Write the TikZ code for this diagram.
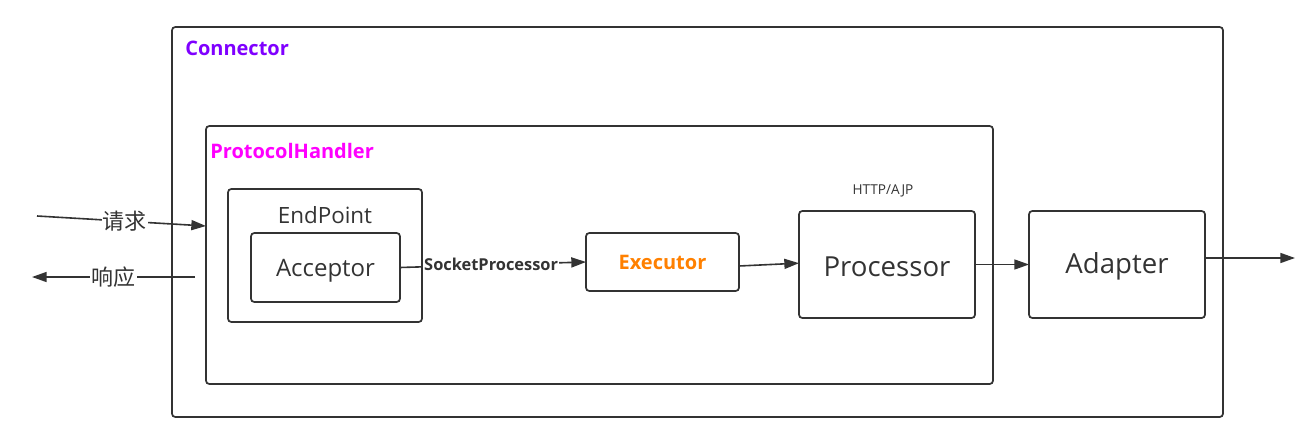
\documentclass[tikz,border=0pt]{standalone}
\usepackage{fontspec}
\setmainfont{Open Sans}
\newfontfamily\cjk{Noto Sans CJK SC}
\usetikzlibrary{arrows.meta,fit}
\definecolor{ink}{HTML}{333333}
\definecolor{conncol}{HTML}{7F00FF}
\definecolor{phcol}{HTML}{FF00FF}
\definecolor{execol}{HTML}{FF8000}
\tikzset{
  box/.style={draw=ink, line width=1.3pt, rounded corners=2.5pt, inner sep=0pt, outer sep=0pt},
  conn/.style={draw=ink, line width=1.2pt, -{Triangle[length=11pt,width=7.5pt]}},
  lbl/.style={text=ink, inner sep=1pt},
  title/.style={font=\bfseries\fontsize{15}{18}\selectfont, anchor=west, inner sep=0pt},
  lab/.style={fill=white, text=ink, inner sep=1pt},
}
\begin{document}
\begin{tikzpicture}[x=0.75pt,y=-0.75pt]
\useasboundingbox (0,0) rectangle (1309,435);
% containers
\node[box, fit={(172,27) (1223,417)}] (connbox) {};
\node[title, text=conncol] (conntitle) at (185,48) {Connector};
\node[box, fit={(206,126) (993,384)}] (ph) {};
\node[title, text=phcol] (phtitle) at (210,151) {ProtocolHandler};
\node[box, fit={(228,189) (422,322)}] (ep) {};
\node[lbl, font=\fontsize{16.8}{20}\selectfont] (eptitle) at (325,215) {EndPoint};
% boxes
\node[box, fit={(251,233) (400,302)}] (acc) {};
\node[lbl, font=\fontsize{18}{22}\selectfont] (acctext) at ([yshift=-2.5pt]acc.center) {Acceptor};
\node[box, fit={(586,233) (739,291)}] (exe) {};
\node[lbl, text=execol, font=\bfseries\fontsize{15}{18}\selectfont] (exetext) at ([yshift=-0.5pt]exe.center) {Executor};
\node[box, fit={(799,211) (975,318)}] (proc) {};
\node[lbl, font=\fontsize{20.7}{25}\selectfont] (proctext) at ([yshift=-1.5pt]proc.center) {Processor};
\node[lbl, font=\fontsize{10.2}{12}\selectfont] (httpajp) at (883,191) {HTTP/AJP};
\node[box, fit={(1029,211) (1205,318)}] (adp) {};
\node[lbl, font=\fontsize{20.7}{25}\selectfont] (adptext) at ([yshift=-1.5pt]adp.center) {Adapter};
% request / response
\coordinate (reqS) at (37,216);
\coordinate (reqY) at (0,226);
\draw[conn] (reqS) -- node[lab, font=\cjk\fontsize{16.5}{19}\selectfont, pos=0.52] (req) {请求} (ph.west |- reqY);
\coordinate (resS) at (195,277);
\coordinate (resE) at (32,277);
\draw[conn] (resS) -- node[lab, font=\cjk\fontsize{16.5}{19}\selectfont, pos=0.5] (res) {响应} (resE);
% flow
\draw[conn] (acc.east) -- node[lab, font=\bfseries\fontsize{12.3}{14}\selectfont, pos=0.49] (sp) {SocketProcessor} (exe.west);
\draw[conn] ([yshift=-3pt]exe.east) -- ([yshift=1pt]proc.west);
\draw[conn] (proc.east) -- (adp.west);
\coordinate (out) at (1295,258);
\draw[conn] ([yshift=4.9pt]adp.east) -- (out);
\end{tikzpicture}
\end{document}
